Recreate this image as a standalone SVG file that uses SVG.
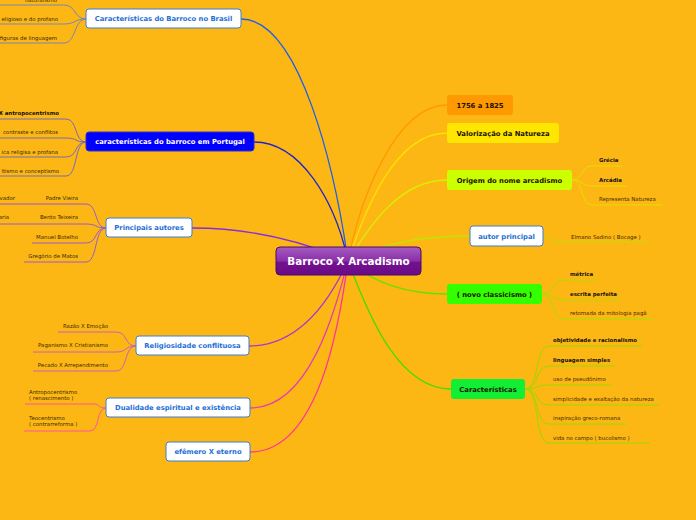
<svg xmlns="http://www.w3.org/2000/svg" width="696" height="520" viewBox="0 0 696 520">
<defs>
<linearGradient id="cg" x1="0" y1="0" x2="0" y2="1">
<stop offset="0" stop-color="#A55CC0"/>
<stop offset="0.5" stop-color="#8A2FA8"/>
<stop offset="0.55" stop-color="#73128F"/>
<stop offset="1" stop-color="#6A0A88"/>
</linearGradient>
</defs>
<style>
text{font-family:"DejaVu Sans",Verdana,sans-serif}
.nt{font-size:6.8px;font-weight:bold}
.bl{fill:#1E6FD8}
.dk{fill:#1a1200}
.wh{fill:#ffffff}
.st{font-size:5.4px;fill:#3a2a08}
.sb{font-size:5.4px;fill:#111;font-weight:bold}
.wb{fill:#ffffff;stroke:#3A7FD5;stroke-width:1}
.c{fill:none;stroke-width:1.3}
.l{fill:none;stroke-width:1}
</style>
<rect width="696" height="520" fill="#FDB714"/>
<g id="connectors">
<path class="c" stroke="#1E60E8" d="M241,19 C300,19 335,170 348,261"/>
<path class="c" stroke="#2222CC" d="M254,142 C300,142 335,200 348,261"/>
<path class="c" stroke="#8A2BE2" d="M192,228 C250,228 300,240 348,261"/>
<path class="c" stroke="#B030D0" d="M249,346 C300,346 330,300 348,261"/>
<path class="c" stroke="#E040B0" d="M250,408 C310,408 335,310 348,261"/>
<path class="c" stroke="#FF30A0" d="M250,452 C320,452 340,320 348,261"/>
<path class="c" stroke="#FF9A00" d="M447,105 C395,105 360,200 348,261"/>
<path class="c" stroke="#FFE000" d="M447,133 C395,133 365,210 348,261"/>
<path class="c" stroke="#D8F000" d="M447,180 C400,180 370,225 348,261"/>
<path class="c" stroke="#B8EA00" d="M470,236 C430,236 390,240 348,261"/>
<path class="c" stroke="#66E000" d="M447,294 C400,294 370,280 348,261"/>
<path class="c" stroke="#44DD00" d="M451,389 C400,389 370,320 348,261"/>
<g stroke="#7A86B8">
<path class="l" d="M86,19 C74,19 76,5 64,5 L0,5"/>
<path class="l" d="M86,19 C74,19 76,24 64,24 L0,24"/>
<path class="l" d="M86,19 C74,19 76,43 64,43 L0,43"/>
</g>
<g stroke="#7A6AB0">
<path class="l" d="M86,142 C74,142 78,119 66,119 L0,119"/>
<path class="l" d="M86,142 C74,142 78,138 66,138 L0,138"/>
<path class="l" d="M86,142 C74,142 78,157 66,157 L0,157"/>
<path class="l" d="M86,142 C74,142 78,176 66,176 L0,176"/>
</g>
<g stroke="#9B59D0">
<path class="l" d="M106,228 C94,228 98,204 86,204 L0,204"/>
<path class="l" d="M106,228 C94,228 98,224 86,224 L0,224"/>
<path class="l" d="M106,228 C94,228 98,243 86,243 L32,243"/>
<path class="l" d="M106,228 C94,228 98,262 86,262 L24,262"/>
</g>
<g stroke="#C860C0">
<path class="l" d="M136,346 C124,346 128,332 116,332 L58,332"/>
<path class="l" d="M136,346 C124,346 128,352 116,352 L33,352"/>
<path class="l" d="M136,346 C124,346 128,371 116,371 L33,371"/>
</g>
<g stroke="#FF55A0">
<path class="l" d="M106,408 C98,408 100,404 94,404 L25,404"/>
<path class="l" d="M106,408 C96,408 100,431 90,431 L24,431"/>
</g>
<g stroke="#E6DC00">
<path class="l" d="M572,180 C584,180 580,166 592,166 L623,166"/>
<path class="l" d="M572,180 C584,180 580,186 592,186 L627,186"/>
<path class="l" d="M572,180 C584,180 580,205 592,205 L662,205"/>
</g>
<g stroke="#BCE000">
<path class="l" d="M543,236 C552,236 550,242 560,242 L647,242"/>
</g>
<g stroke="#A6E000">
<path class="l" d="M542,294 C554,294 552,280 564,280 L597,280"/>
<path class="l" d="M542,294 C554,294 552,300 564,300 L621,300"/>
<path class="l" d="M542,294 C554,294 552,319 564,319 L652,319"/>
</g>
<g stroke="#98DA00">
<path class="l" d="M525,389 C540,389 534,346 549,346 L642,346"/>
<path class="l" d="M525,389 C540,389 534,366 549,366 L615,366"/>
<path class="l" d="M525,389 C540,389 534,385 549,385 L611,385"/>
<path class="l" d="M525,389 C540,389 534,405 549,405 L659,405"/>
<path class="l" d="M525,389 C540,389 534,424 549,424 L626,424"/>
<path class="l" d="M525,389 C540,389 534,443 549,443 L650,443"/>
</g>
</g>
<g id="center">
<rect x="276" y="247" width="145" height="28" rx="4" fill="url(#cg)" stroke="#4B0A64" stroke-width="1"/>
<text x="348.5" y="265" text-anchor="middle" class="wh" font-size="10.4" font-weight="bold">Barroco X Arcadismo</text>
</g>
<g id="n-brasil">
<rect class="wb" x="86" y="9" width="155" height="19" rx="3"/>
<text class="nt bl" x="163.5" y="21" text-anchor="middle">Características do Barroco no Brasil</text>
<text class="st" x="57" y="1.5" text-anchor="end">naturalismo</text>
<text class="st" x="58" y="21" text-anchor="end">eligioso e do profano</text>
<text class="st" x="57" y="40" text-anchor="end">figuras de linguagem</text>
</g>
<g id="n-portugal">
<rect x="86" y="132" width="168" height="19" rx="3" fill="#0000FF" stroke="#3030C0"/>
<text class="nt wh" x="170" y="144" text-anchor="middle">características do barroco em Portugal</text>
<text class="sb" x="59" y="115" text-anchor="end">X antropocentrismo</text>
<text class="st" x="58" y="134" text-anchor="end">contraste e conflitos</text>
<text class="st" x="58" y="154" text-anchor="end">ica religisa e profana</text>
<text class="st" x="59" y="173" text-anchor="end">ltismo e conceptismo</text>
</g>
<g id="n-autores">
<rect class="wb" x="106" y="218" width="86" height="19" rx="3"/>
<text class="nt bl" x="149" y="230" text-anchor="middle">Principais autores</text>
<text class="st" x="78" y="200" text-anchor="end">Padre Vieira</text>
<text class="st" x="15" y="200" text-anchor="end">vador</text>
<text class="st" x="78" y="219" text-anchor="end">Bento Teixeira</text>
<text class="st" x="9" y="219" text-anchor="end">aria</text>
<text class="st" x="78" y="239" text-anchor="end">Manuel Botelho</text>
<text class="st" x="78" y="258" text-anchor="end">Gregório de Matos</text>
</g>
<g id="n-religiosidade">
<rect class="wb" x="136" y="336" width="113" height="19" rx="3"/>
<text class="nt bl" x="192.5" y="348" text-anchor="middle">Religiosidade conflituosa</text>
<text class="st" x="108" y="328" text-anchor="end">Razão X Emoção</text>
<text class="st" x="108" y="347" text-anchor="end">Paganismo X Cristianismo</text>
<text class="st" x="108" y="367" text-anchor="end">Pecado X Arrependimento</text>
</g>
<g id="n-dualidade">
<rect class="wb" x="106" y="398" width="144" height="19" rx="3"/>
<text class="nt bl" x="178" y="410" text-anchor="middle">Dualidade espiritual e existência</text>
<text class="st" x="29" y="394">Antropocentrismo</text>
<text class="st" x="29" y="400">( renascimento )</text>
<text class="st" x="29" y="420">Teocentrismo</text>
<text class="st" x="29" y="426">( contrarreforma )</text>
</g>
<g id="n-efemero">
<rect class="wb" x="166" y="442" width="84" height="19" rx="3"/>
<text class="nt bl" x="208" y="454" text-anchor="middle">efêmero X eterno</text>
</g>
<g id="n-datas">
<rect x="447" y="95" width="66" height="20" rx="3" fill="#FF9900"/>
<text class="nt dk" x="480" y="108" text-anchor="middle">1756 a 1825</text>
</g>
<g id="n-natureza">
<rect x="447" y="123" width="112" height="20" rx="3" fill="#FFE600"/>
<text class="nt dk" x="503" y="136" text-anchor="middle">Valorização da Natureza</text>
</g>
<g id="n-origem">
<rect x="447" y="170" width="125" height="20" rx="3" fill="#CCFF00"/>
<text class="nt dk" x="509.5" y="183" text-anchor="middle">Origem do nome arcadismo</text>
<text class="sb" x="599" y="162">Grécia</text>
<text class="sb" x="599" y="182">Arcádia</text>
<text class="st" x="599" y="201">Representa Natureza</text>
</g>
<g id="n-autor">
<rect class="wb" x="470" y="226" width="73" height="20" rx="3"/>
<text class="nt bl" x="506.5" y="239" text-anchor="middle">autor principal</text>
<text class="st" x="571" y="239">Elmano Sadino ( Bocage )</text>
</g>
<g id="n-classicismo">
<rect x="447" y="284" width="95" height="20" rx="3" fill="#33FF00"/>
<text class="nt dk" x="494.5" y="297" text-anchor="middle">( novo classicismo )</text>
<text class="sb" x="570" y="276">métrica</text>
<text class="sb" x="570" y="296">escrita perfeita</text>
<text class="st" x="570" y="315">retomada da mitologia pagã</text>
</g>
<g id="n-caracteristicas">
<rect x="451" y="379" width="74" height="20" rx="3" fill="#11EE33"/>
<text class="nt dk" x="488" y="392" text-anchor="middle">Características</text>
<text class="sb" x="553" y="342">objetividade e racionalismo</text>
<text class="sb" x="553" y="362">linguagem simples</text>
<text class="st" x="553" y="381">uso de pseudônimo</text>
<text class="st" x="553" y="401">simplicidade e exaltação da natureza</text>
<text class="st" x="553" y="420">inspiração greco-romana</text>
<text class="st" x="553" y="440">vida no campo ( bucolismo )</text>
</g>
</svg>
